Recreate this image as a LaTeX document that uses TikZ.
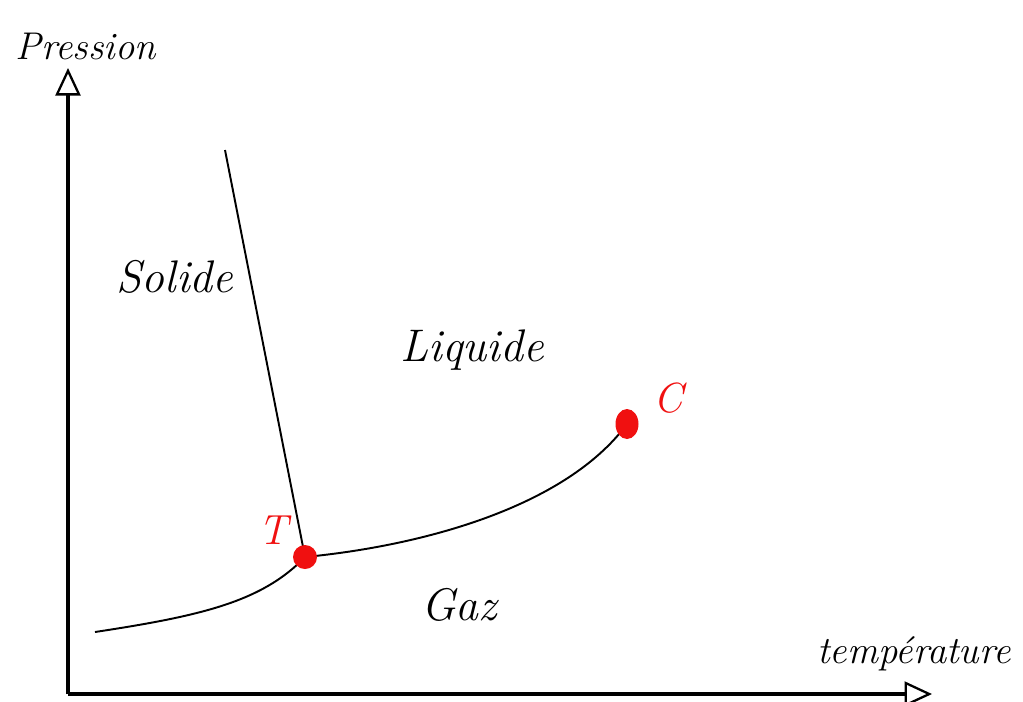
\documentclass[tikz,border=0pt]{standalone}
\usepackage{xcolor}
\usetikzlibrary{arrows.meta, positioning, shapes.geometric}
\definecolor{pointrouge}{HTML}{F01010}
\tikzset{
  axe/.style={line width=1.8pt, -{Triangle[open, length=0.55cm, width=0.5cm, line width=1.3pt]}},
  courbe/.style={line width=1.1pt, draw=black},
  etat/.style={font=\itshape\fontsize{26}{30}\selectfont, inner sep=0pt},
  titre/.style={font=\itshape\fontsize{22}{26}\selectfont, inner sep=0pt},
  pt/.style={ellipse, fill=pointrouge, inner sep=0pt, minimum size=0.48cm},
  nom/.style={text=pointrouge, font=\itshape\fontsize{24}{28}\selectfont, inner sep=0pt},
}

\begin{document}
\begin{tikzpicture}[x=0.02cm, y=-0.02cm]
  \useasboundingbox (0,0) rectangle (1023,701);
  % axes
  \coordinate (O) at (68,694);
  \coordinate (pmax) at (68,68);
  \coordinate (tmax) at (932,694);
  \draw[axe] (O) -- (pmax);
  \draw[axe] (O) -- (tmax);
  \node (pression) [titre] at (86,46) {Pression};
  \node (temp) [titre] at (914,654) {température};
  % courbes de changement d'etat
  \coordinate (pT) at (305,557);
  \coordinate (pC) at (627,424);
  \coordinate (sub) at (95,632);
  \coordinate (fus) at (225,150);
  \draw[courbe] (sub) .. controls (200,616) and (262,602) .. (pT);
  \draw[courbe] (pT) -- (fus);
  \draw[courbe] (pT) .. controls (420,546) and (565,508) .. (pC);
  % points remarquables
  \node (T) [pt] at (pT) {};
  \node (C) [pt, minimum height=0.6cm, minimum width=0.46cm] at (pC) {};
  \node (nT) [nom] at (273,530) {T};
  \node (nC) [nom] at (668,398) {C};
  % domaines
  \node (solide) [etat] at (175,277) {Solide};
  \node (liquide) [etat] at (472,350) {Liquide};
  \node (gaz) [etat] at (459,605) {Gaz};
\end{tikzpicture}
\end{document}
